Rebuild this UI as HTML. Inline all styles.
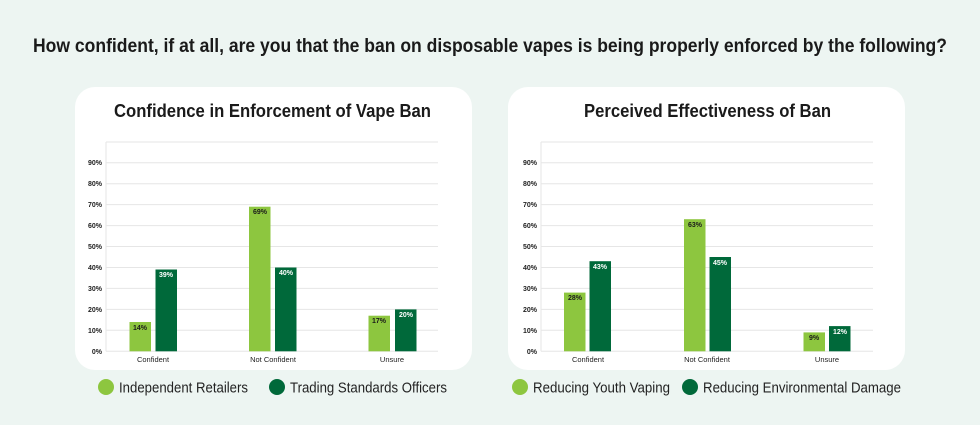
<!DOCTYPE html>
<html><head><meta charset="utf-8"><style>
html,body{margin:0;padding:0;background:#edf5f2;}
svg{display:block;font-family:"Liberation Sans",sans-serif;}
</style></head><body>
<svg width="980" height="425" viewBox="0 0 980 425" xmlns="http://www.w3.org/2000/svg">
<rect width="980" height="425" fill="#edf5f2"/>
<text x="33" y="52" font-size="19" font-weight="bold" fill="#1a1a1a" textLength="914" lengthAdjust="spacingAndGlyphs">How confident, if at all, are you that the ban on disposable vapes is being properly enforced by the following?</text>

<!-- Left card -->
<rect x="75" y="87" width="397" height="283" rx="20" fill="#fff"/>
<text x="114" y="117" font-size="18" font-weight="bold" fill="#1a1a1a" textLength="317" lengthAdjust="spacingAndGlyphs">Confidence in Enforcement of Vape Ban</text>
<g stroke="#e6e6e6" stroke-width="1">
<line x1="106" y1="162.7" x2="438" y2="162.7"/><line x1="106" y1="183.7" x2="438" y2="183.7"/><line x1="106" y1="204.6" x2="438" y2="204.6"/><line x1="106" y1="225.6" x2="438" y2="225.6"/><line x1="106" y1="246.5" x2="438" y2="246.5"/><line x1="106" y1="267.5" x2="438" y2="267.5"/><line x1="106" y1="288.4" x2="438" y2="288.4"/><line x1="106" y1="309.4" x2="438" y2="309.4"/><line x1="106" y1="330.3" x2="438" y2="330.3"/><line x1="106" y1="351.3" x2="438" y2="351.3"/>
<line x1="106" y1="142" x2="438" y2="142"/>
<line x1="106" y1="142" x2="106" y2="351.3"/>
</g>
<g font-size="7" font-weight="bold" fill="#222" text-anchor="end">
<text x="102" y="165">90%</text><text x="102" y="186">80%</text><text x="102" y="207">70%</text><text x="102" y="228">60%</text><text x="102" y="249">50%</text><text x="102" y="270">40%</text><text x="102" y="291">30%</text><text x="102" y="312">20%</text><text x="102" y="333">10%</text><text x="102" y="354">0%</text>
</g>
<g>
<rect x="129.5" y="322" width="21.5" height="29.3" fill="#8dc63f"/>
<rect x="155.5" y="269.5" width="21.5" height="81.8" fill="#00693a"/>
<rect x="249" y="206.7" width="21.5" height="144.6" fill="#8dc63f"/>
<rect x="275" y="267.5" width="21.5" height="83.8" fill="#00693a"/>
<rect x="368.5" y="315.7" width="21.5" height="35.6" fill="#8dc63f"/>
<rect x="395" y="309.4" width="21.5" height="41.9" fill="#00693a"/>
</g>
<g font-size="7" font-weight="bold" text-anchor="middle">
<text x="140" y="330" fill="#1a1a1a">14%</text>
<text x="166" y="277" fill="#fff">39%</text>
<text x="260" y="214" fill="#1a1a1a">69%</text>
<text x="286" y="275" fill="#fff">40%</text>
<text x="379" y="323" fill="#1a1a1a">17%</text>
<text x="406" y="317" fill="#fff">20%</text>
</g>
<g font-size="7.5" fill="#222" text-anchor="middle">
<text x="153" y="362">Confident</text><text x="273" y="362">Not Confident</text><text x="392" y="362">Unsure</text>
</g>
<circle cx="106" cy="387" r="8" fill="#8dc63f"/>
<text x="119" y="392.5" font-size="15" fill="#222" textLength="129" lengthAdjust="spacingAndGlyphs">Independent Retailers</text>
<circle cx="277" cy="387" r="8" fill="#00693a"/>
<text x="290" y="392.5" font-size="15" fill="#222" textLength="157" lengthAdjust="spacingAndGlyphs">Trading Standards Officers</text>

<!-- Right card -->
<rect x="508" y="87" width="397" height="283" rx="20" fill="#fff"/>
<text x="584" y="117" font-size="18" font-weight="bold" fill="#1a1a1a" textLength="247" lengthAdjust="spacingAndGlyphs">Perceived Effectiveness of Ban</text>
<g stroke="#e6e6e6" stroke-width="1">
<line x1="541" y1="162.7" x2="873" y2="162.7"/><line x1="541" y1="183.7" x2="873" y2="183.7"/><line x1="541" y1="204.6" x2="873" y2="204.6"/><line x1="541" y1="225.6" x2="873" y2="225.6"/><line x1="541" y1="246.5" x2="873" y2="246.5"/><line x1="541" y1="267.5" x2="873" y2="267.5"/><line x1="541" y1="288.4" x2="873" y2="288.4"/><line x1="541" y1="309.4" x2="873" y2="309.4"/><line x1="541" y1="330.3" x2="873" y2="330.3"/><line x1="541" y1="351.3" x2="873" y2="351.3"/>
<line x1="541" y1="142" x2="873" y2="142"/>
<line x1="541" y1="142" x2="541" y2="351.3"/>
</g>
<g font-size="7" font-weight="bold" fill="#222" text-anchor="end">
<text x="537" y="165">90%</text><text x="537" y="186">80%</text><text x="537" y="207">70%</text><text x="537" y="228">60%</text><text x="537" y="249">50%</text><text x="537" y="270">40%</text><text x="537" y="291">30%</text><text x="537" y="312">20%</text><text x="537" y="333">10%</text><text x="537" y="354">0%</text>
</g>
<g>
<rect x="564" y="292.6" width="21.5" height="58.7" fill="#8dc63f"/>
<rect x="589.5" y="261.2" width="21.5" height="90.1" fill="#00693a"/>
<rect x="684" y="219.2" width="21.5" height="132.1" fill="#8dc63f"/>
<rect x="709.5" y="257" width="21.5" height="94.3" fill="#00693a"/>
<rect x="803.5" y="332.4" width="21.5" height="18.9" fill="#8dc63f"/>
<rect x="829" y="326.1" width="21.5" height="25.2" fill="#00693a"/>
</g>
<g font-size="7" font-weight="bold" text-anchor="middle">
<text x="575" y="300" fill="#1a1a1a">28%</text>
<text x="600" y="269" fill="#fff">43%</text>
<text x="695" y="227" fill="#1a1a1a">63%</text>
<text x="720" y="265" fill="#fff">45%</text>
<text x="814" y="340" fill="#1a1a1a">9%</text>
<text x="840" y="334" fill="#fff">12%</text>
</g>
<g font-size="7.5" fill="#222" text-anchor="middle">
<text x="588" y="362">Confident</text><text x="707" y="362">Not Confident</text><text x="827" y="362">Unsure</text>
</g>
<circle cx="520" cy="387" r="8" fill="#8dc63f"/>
<text x="533" y="392.5" font-size="15" fill="#222" textLength="137" lengthAdjust="spacingAndGlyphs">Reducing Youth Vaping</text>
<circle cx="690" cy="387" r="8" fill="#00693a"/>
<text x="703" y="392.5" font-size="15" fill="#222" textLength="198" lengthAdjust="spacingAndGlyphs">Reducing Environmental Damage</text>
</svg>
</body></html>
